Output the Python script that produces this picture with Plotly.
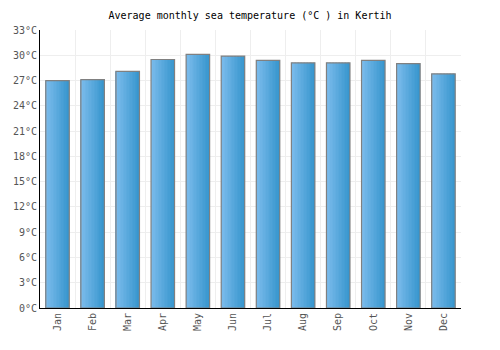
import plotly.graph_objects as go

months = ["Jan", "Feb", "Mar", "Apr", "May", "Jun", "Jul", "Aug", "Sep", "Oct", "Nov", "Dec"]
temps = [27.0, 27.1, 28.1, 29.5, 30.1, 29.9, 29.4, 29.1, 29.1, 29.4, 29.0, 27.8]
y_ticks = list(range(0, 34, 3))
y_labels = [f"{v}°C" for v in y_ticks]
title_text = "Average monthly sea temperature (°C ) in Kertih"

bar_w = 0.67
n_slices = 16
c0 = (124, 188, 236)
c1 = (56, 150, 206)

fig = go.Figure()
for i in range(n_slices):
    t = i / (n_slices - 1)
    col = tuple(round(c0[k] + (c1[k] - c0[k]) * t) for k in range(3))
    fig.add_trace(go.Bar(
        x=months, y=temps,
        width=bar_w / n_slices + 0.002,
        offset=-bar_w / 2 + i * bar_w / n_slices,
        marker=dict(color=f"rgb{col}", line=dict(width=0)),
        hoverinfo="skip", showlegend=False,
    ))
fig.add_trace(go.Bar(
    x=months, y=temps, width=bar_w, offset=-bar_w / 2,
    marker=dict(color="rgba(0,0,0,0)", line=dict(color="#808080", width=1.2)),
    showlegend=False,
))

fig.update_layout(
    width=500, height=350,
    margin=dict(l=40, r=39, t=30, b=42),
    barmode="overlay",
    paper_bgcolor="white", plot_bgcolor="white",
    font=dict(family="DejaVu Sans Mono", size=10, color="#555555"),
    title=dict(text=title_text, x=0.5, xanchor="center", y=0.957, yanchor="middle",
               font=dict(family="DejaVu Sans Mono", size=10, color="#000000")),
    xaxis=dict(
        type="category", tickangle=-90, showgrid=True, gridcolor="#eeeeee",
        tickson="boundaries", ticks="", showline=True, linecolor="#000000", linewidth=1,
        tickfont=dict(size=10, color="#555555"),
    ),
    yaxis=dict(
        range=[0, 33], tickvals=y_ticks, ticktext=y_labels, showgrid=True,
        gridcolor="#eeeeee", showline=True, linecolor="#000000", linewidth=1,
        ticks="", zeroline=False, tickfont=dict(size=10, color="#555555"),
    ),
)

fig.write_html("out.html")
